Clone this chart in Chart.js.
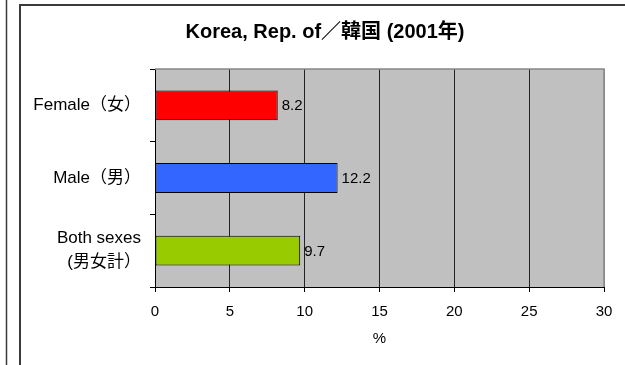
<!DOCTYPE html>
<html>
<head>
<meta charset="utf-8">
<title>Korea, Rep. of／韓国 (2001年)</title>
<script src="https://cdn.jsdelivr.net/npm/chart.js@4/dist/chart.umd.min.js"></script>
<style>
  html, body { margin: 0; padding: 0; background: #fff; }
  #chart { display: block; }
</style>
</head>
<body>
<canvas id="chart" width="625" height="365"></canvas>
<script>
// ── Data
const categories = ["Female（女）", "Male（男）", ["Both sexes", "(男女計）"]];
const rates = [8.2, 12.2, 9.7];
const barColors = ["#ff0000", "#3366ff", "#99cc00"];
const axisMin = 0;
const axisMax = 30;
const axisStep = 5;

const FONT = "'Liberation Sans', Arial, 'Noto Sans CJK JP', sans-serif";

// Frame lines, grey plot background and the grey top/right plot edge
const framePlugin = {
  id: "frame",
  beforeDraw(chart) {
    const { ctx, chartArea: a, width, height } = chart;
    ctx.save();
    ctx.fillStyle = "#fff";
    ctx.fillRect(0, 0, width, height);
    ctx.strokeStyle = "#3a3a3a";
    ctx.lineWidth = 1.5;
    ctx.beginPath();
    ctx.moveTo(6.5, 0); ctx.lineTo(6.5, height);
    ctx.stroke();
    ctx.lineWidth = 2;
    ctx.beginPath();
    ctx.moveTo(20, height); ctx.lineTo(20, 5); ctx.lineTo(width, 5);
    ctx.stroke();
    ctx.fillStyle = "#c0c0c0";
    ctx.fillRect(a.left, a.top, a.right - a.left, a.bottom - a.top);
    ctx.restore();
  },
  beforeDatasetsDraw(chart) {
    const { ctx, chartArea: a } = chart;
    ctx.save();
    ctx.strokeStyle = "#888";
    ctx.lineWidth = 1.5;
    ctx.beginPath();
    ctx.moveTo(a.left, a.top); ctx.lineTo(a.right, a.top); ctx.lineTo(a.right, a.bottom);
    ctx.stroke();
    ctx.restore();
  },
};

// Value printed just past the end of each bar
const valueLabels = {
  id: "valueLabels",
  afterDatasetsDraw(chart) {
    const { ctx } = chart;
    const meta = chart.getDatasetMeta(0);
    ctx.save();
    ctx.font = `15px ${FONT}`;
    ctx.fillStyle = "#000";
    ctx.textAlign = "left";
    ctx.textBaseline = "middle";
    meta.data.forEach((bar, i) => {
      ctx.fillText(rates[i].toFixed(1), bar.x + 4, bar.y + 1);
    });
    ctx.restore();
  },
};

new Chart(document.getElementById("chart"), {
  type: "bar",
  data: {
    labels: categories,
    datasets: [{
      data: rates,
      backgroundColor: barColors,
      borderColor: "#000",
      borderWidth: 1,
      borderSkipped: false,
      categoryPercentage: 1,
      barPercentage: 0.41,
    }],
  },
  options: {
    indexAxis: "y",
    responsive: false,
    animation: false,
    layout: { padding: { left: 33, right: 8, top: 0, bottom: 10 } },
    plugins: {
      legend: { display: false },
      tooltip: { enabled: false },
      title: {
        display: true,
        text: "Korea, Rep. of／韓国 (2001年)",
        color: "#000",
        font: { family: FONT, size: 20, weight: "bold", lineHeight: 1.2 },
        padding: { top: 20, bottom: 25 },
      },
    },
    scales: {
      x: {
        min: axisMin,
        max: axisMax,
        ticks: { stepSize: axisStep, color: "#000", padding: 11,
                 font: { family: FONT, size: 15 } },
        grid: {
          color: ctx => (ctx.tick && ctx.tick.value === axisMax ? "#888" : "#222"),
          tickColor: "#000",
          tickLength: 5,
          lineWidth: 1,
        },
        border: { color: "#000", width: 1 },
        title: {
          display: true, text: "%", color: "#000",
          font: { family: FONT, size: 15 },
          padding: { top: 0, bottom: 7 },
        },
        afterFit: s => { s.height = 68; },
      },
      y: {
        ticks: { color: "#000", padding: 9,
                 font: { family: FONT, size: 17, lineHeight: 1.4 } },
        grid: {
          offset: true,
          drawOnChartArea: false,
          tickColor: "#000",
          tickLength: 5,
        },
        border: { color: "#000", width: 1 },
        afterFit: s => { s.width = 122; },
      },
      // empty strip on the right, keeps the plot clear of the frame edge
      spacer: {
        type: "linear",
        position: "right",
        grid: { display: false },
        ticks: { display: false },
        border: { display: false },
        afterFit: s => { s.width = 13; },
      },
    },
  },
  plugins: [framePlugin, valueLabels],
});
</script>
</body>
</html>
